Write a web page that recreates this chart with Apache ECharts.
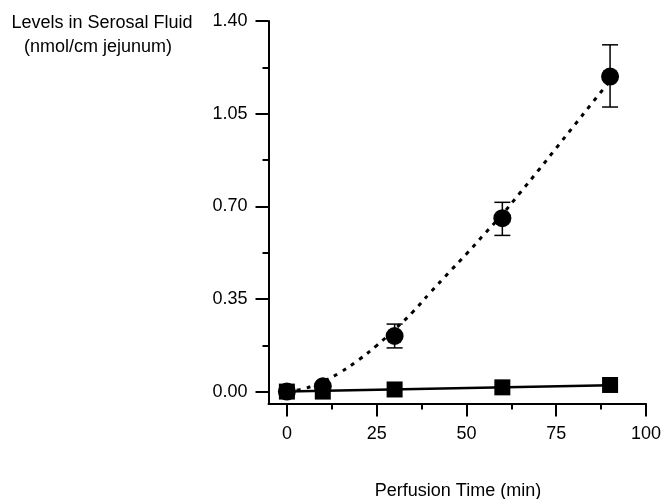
<!DOCTYPE html>
<html>
<head>
<meta charset="utf-8">
<script src="https://cdn.jsdelivr.net/npm/echarts@6/dist/echarts.min.js"></script>
<style>
html,body{margin:0;padding:0;background:#fff;}
#chart{width:664px;height:499px;}
</style>
</head>
<body>
<div id="chart"></div>
<script>
// ---- data ----
const timeMin = [0, 10, 30, 60, 90];
const circleMean = [0.0, 0.02, 0.21, 0.655, 1.19];
const circleLow = [null, null, 0.165, 0.59, 1.075];
const circleHigh = [null, null, 0.255, 0.715, 1.31];
const squareMean = [0.0, 0.0, 0.008, 0.016, 0.025];
const circleFitX = [0, 5, 10, 15, 20, 25, 30, 35, 40, 45, 50, 55, 60, 65, 70, 75, 80, 85, 90];
const circleFitY = [0.0, 0.012, 0.038, 0.074, 0.12, 0.174, 0.235, 0.30, 0.375, 0.448, 0.52, 0.595, 0.67, 0.752, 0.835, 0.92, 1.005, 1.09, 1.175];
const squareFitX = [0, 90];
const squareFitY = [0.0, 0.024];
const xMajorTicks = [0, 25, 50, 75, 100];
const xMinorTicks = [12.5, 37.5, 62.5, 87.5];
const yMajorTicks = [0, 0.35, 0.70, 1.05, 1.40];
const yMinorTicks = [0.175, 0.525, 0.875, 1.225];
const yTitleLines = ['Levels in Serosal Fluid', '(nmol/cm jejunum)'];
const xTitle = 'Perfusion Time (min)';

const FONT = '"Liberation Sans", Arial, sans-serif';
const zip = (a, b) => a.map((v, i) => [v, b[i]]);
const errData = timeMin.map((t, i) => [t, circleLow[i], circleHigh[i]]).filter(d => d[1] !== null);

const X_MIN = -5.12, X_MAX = 100, Y_MIN = -0.045, Y_MAX = 1.40;
const axisCommon = {
  axisLine: {show: true, onZero: false, lineStyle: {color: '#000', width: 2}},
  splitLine: {show: false}
};

const chart = echarts.init(document.getElementById('chart'), null, {renderer: 'canvas'});
chart.setOption({
  animation: false,
  backgroundColor: '#fff',
  grid: {left: 268.5, right: 15.5, top: 21, bottom: 95.5, containLabel: false},
  xAxis: [
    Object.assign({}, axisCommon, {
      type: 'value', min: X_MIN, max: X_MAX, position: 'bottom',
      axisTick: {show: true, customValues: xMajorTicks, length: 13, lineStyle: {color: '#000', width: 2}},
      axisLabel: {customValues: xMajorTicks, margin: 22, color: '#000', fontSize: 18, fontFamily: FONT,
        formatter: v => String(v)}
    }),
    Object.assign({}, axisCommon, {
      type: 'value', min: X_MIN, max: X_MAX, position: 'bottom',
      axisLine: {show: false, onZero: false},
      axisTick: {show: true, customValues: xMinorTicks, length: 6, lineStyle: {color: '#000', width: 2}},
      axisLabel: {show: false}
    })
  ],
  yAxis: [
    Object.assign({}, axisCommon, {
      type: 'value', min: Y_MIN, max: Y_MAX, position: 'left',
      axisTick: {show: true, customValues: yMajorTicks, length: 13, lineStyle: {color: '#000', width: 2}},
      axisLabel: {customValues: yMajorTicks, margin: 21, color: '#000', fontSize: 18, fontFamily: FONT,
        formatter: v => v.toFixed(2)}
    }),
    Object.assign({}, axisCommon, {
      type: 'value', min: Y_MIN, max: Y_MAX, position: 'left',
      axisLine: {show: false, onZero: false},
      axisTick: {show: true, customValues: yMinorTicks, length: 6, lineStyle: {color: '#000', width: 2}},
      axisLabel: {show: false}
    })
  ],
  graphic: [
    {type: 'text', x: 102, y: 23, style: {text: yTitleLines[0], font: '18px ' + FONT, fill: '#000', textAlign: 'center', textVerticalAlign: 'middle'}},
    {type: 'text', x: 98, y: 47, style: {text: yTitleLines[1], font: '18px ' + FONT, fill: '#000', textAlign: 'center', textVerticalAlign: 'middle'}},
    {type: 'text', x: 458, y: 491, style: {text: xTitle, font: '18px ' + FONT, fill: '#000', textAlign: 'center', textVerticalAlign: 'middle'}}
  ],
  series: [
    {type: 'line', xAxisIndex: 0, yAxisIndex: 0, data: zip(circleFitX, circleFitY), showSymbol: false, symbol: 'none', smooth: true,
      lineStyle: {color: '#000', width: 3, type: [4, 6]}, z: 2},
    {type: 'line', xAxisIndex: 0, yAxisIndex: 0, data: zip(squareFitX, squareFitY), showSymbol: false, symbol: 'none',
      lineStyle: {color: '#000', width: 2.5, type: 'solid'}, z: 2},
    {type: 'custom', xAxisIndex: 0, yAxisIndex: 0, data: errData, z: 3,
      renderItem: function (params, api) {
        const x = api.value(0);
        const lo = api.coord([x, api.value(1)]);
        const hi = api.coord([x, api.value(2)]);
        const hw = 8;
        const st = {stroke: '#000', lineWidth: 1.5};
        return {type: 'group', children: [
          {type: 'line', shape: {x1: lo[0], y1: lo[1], x2: hi[0], y2: hi[1]}, style: st},
          {type: 'line', shape: {x1: lo[0] - hw, y1: lo[1], x2: lo[0] + hw, y2: lo[1]}, style: st},
          {type: 'line', shape: {x1: hi[0] - hw, y1: hi[1], x2: hi[0] + hw, y2: hi[1]}, style: st}
        ]};
      }},
    {type: 'scatter', xAxisIndex: 0, yAxisIndex: 0, data: zip(timeMin, circleMean), symbol: 'circle', symbolSize: 18,
      itemStyle: {color: '#000', opacity: 1}, z: 4},
    {type: 'scatter', xAxisIndex: 0, yAxisIndex: 0, data: zip(timeMin, squareMean), symbol: 'rect', symbolSize: 16,
      itemStyle: {color: '#000', opacity: 1}, z: 5}
  ]
});
</script>
</body>
</html>
